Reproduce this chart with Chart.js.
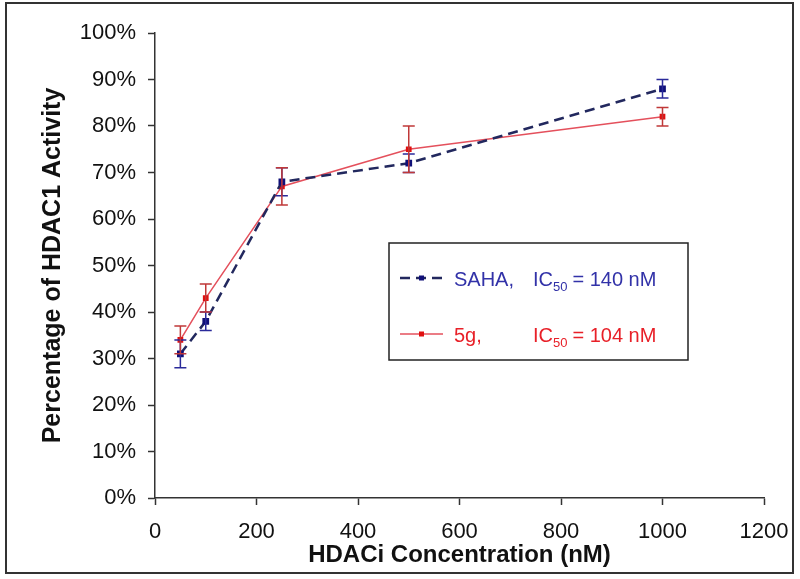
<!DOCTYPE html>
<html>
<head>
<meta charset="utf-8">
<script src="https://cdn.jsdelivr.net/npm/chart.js@4"></script>
<style>
  html, body { margin: 0; padding: 0; background: #fff; }
  #wrap { width: 800px; height: 579px; }
</style>
</head>
<body>
<div id="wrap"><canvas id="hdacChart" width="800" height="579"></canvas></div>
<script>
// Data
const concentrations = [50, 100, 250, 500, 1000];
const sahaValues = [0.31, 0.38, 0.68, 0.72, 0.88];
const sahaErrors = [0.03, 0.02, 0.03, 0.02, 0.02];
const g5Values = [0.34, 0.43, 0.67, 0.75, 0.82];
const g5Errors = [0.03, 0.03, 0.04, 0.05, 0.02];
const legendNames = ['SAHA,', '5g,'];
const legendIC50 = ['140 nM', '104 nM'];

const toPoints = (vals) => concentrations.map((c, i) => ({ x: c, y: vals[i] }));

// Error bars drawn via the chart's own scales
const errorBarPlugin = {
    id: 'errorBars',
    afterDatasetsDraw(chart) {
        const { ctx, scales: { x, y } } = chart;
        chart.data.datasets.forEach((ds) => {
            if (!ds.errors) return;
            ctx.save();
            ctx.strokeStyle = ds.errorColor;
            ctx.lineWidth = 1.5;
            ds.data.forEach((p, i) => {
                const px = x.getPixelForValue(p.x);
                const top = y.getPixelForValue(p.y + ds.errors[i]);
                const bot = y.getPixelForValue(p.y - ds.errors[i]);
                ctx.beginPath();
                ctx.moveTo(px, top); ctx.lineTo(px, bot);
                ctx.moveTo(px - 6, top); ctx.lineTo(px + 6, top);
                ctx.moveTo(px - 6, bot); ctx.lineTo(px + 6, bot);
                ctx.stroke();
            });
            ctx.restore();
        });
    }
};

// Boxed legend with subscripted IC50 and outer frame
const customLegendPlugin = {
    id: 'customLegend',
    afterDraw(chart) {
        const ctx = chart.ctx;
        ctx.save();
        // outer frame
        ctx.strokeStyle = '#333';
        ctx.lineWidth = 2;
        ctx.strokeRect(6, 3, 787, 570);

        // legend box
        ctx.lineWidth = 1.5;
        ctx.strokeStyle = '#222';
        ctx.strokeRect(389, 243, 299, 117);

        const rows = [278, 334];
        chart.data.datasets.forEach((ds, i) => {
            const yy = rows[i];
            ctx.strokeStyle = ds.borderColor;
            ctx.lineWidth = ds.borderWidth;
            ctx.setLineDash(ds.borderDash || []);
            ctx.beginPath();
            ctx.moveTo(400, yy); ctx.lineTo(443, yy);
            ctx.stroke();
            ctx.setLineDash([]);
            ctx.fillStyle = ds.pointBackgroundColor;
            ctx.fillRect(419, yy - 2.5, 5, 5);

            ctx.fillStyle = ds.textColor;
            ctx.textBaseline = 'alphabetic';
            ctx.font = '20px Arial, "Liberation Sans", sans-serif';
            ctx.fillText(legendNames[i], 454, yy + 8);
            let tx = 533;
            ctx.fillText('IC', tx, yy + 8);
            tx += ctx.measureText('IC').width;
            ctx.font = '13px Arial, "Liberation Sans", sans-serif';
            ctx.fillText('50', tx, yy + 13);
            tx += ctx.measureText('50').width + 5;
            ctx.font = '20px Arial, "Liberation Sans", sans-serif';
            ctx.fillText('= ' + legendIC50[i], tx, yy + 8);
        });
        ctx.restore();
    }
};

const ctx = document.getElementById('hdacChart').getContext('2d');

new Chart(ctx, {
    type: 'line',
    data: {
        datasets: [
            {
                label: 'SAHA',
                data: toPoints(sahaValues),
                errors: sahaErrors,
                errorColor: '#2a2a9a',
                textColor: '#3232a8',
                borderColor: '#22285e',
                borderWidth: 2.5,
                borderDash: [10, 6],
                pointStyle: 'rect',
                pointRadius: 3,
                pointBackgroundColor: '#101078',
                pointBorderColor: '#101078',
                tension: 0
            },
            {
                label: '5g',
                data: toPoints(g5Values),
                errors: g5Errors,
                errorColor: '#c03838',
                textColor: '#e82028',
                borderColor: '#e4505c',
                borderWidth: 1.5,
                pointStyle: 'rect',
                pointRadius: 3,
                pointBackgroundColor: '#e01010',
                pointBorderColor: '#e01010',
                tension: 0
            }
        ]
    },
    options: {
        responsive: false,
        animation: false,
        layout: { padding: { top: 33, right: 36, left: 0, bottom: 0 } },
        plugins: {
            legend: { display: false },
            tooltip: { enabled: false }
        },
        scales: {
            x: {
                type: 'linear',
                min: 0,
                max: 1200,
                afterFit: (s) => { s.height = 81; s.paddingRight = 0; },
                ticks: {
                    stepSize: 200,
                    color: '#111',
                    padding: 14,
                    font: { size: 22, family: 'Arial, "Liberation Sans", sans-serif' },
                    callback: (v) => String(v)
                },
                grid: { drawOnChartArea: false, drawTicks: true, tickLength: 7, tickColor: '#333', tickWidth: 1.5 },
                border: { display: true, color: '#333', width: 1.5 },
                title: {
                    display: true,
                    text: 'HDACi Concentration (nM)',
                    color: '#111',
                    padding: { top: 0, bottom: 9 },
                    font: { size: 24, weight: 'bold', family: 'Arial, "Liberation Sans", sans-serif' }
                }
            },
            y: {
                min: 0,
                max: 1,
                afterFit: (s) => { s.width = 155; },
                ticks: {
                    stepSize: 0.1,
                    color: '#111',
                    padding: 12,
                    font: { size: 22, family: 'Arial, "Liberation Sans", sans-serif' },
                    callback: (v) => Math.round(v * 100) + '%'
                },
                grid: { drawOnChartArea: false, drawTicks: true, tickLength: 7, tickColor: '#333', tickWidth: 1.5 },
                border: { display: true, color: '#333', width: 1.5 },
                title: {
                    display: true,
                    text: 'Percentage of HDAC1 Activity',
                    color: '#111',
                    padding: { top: 38, bottom: 0 },
                    font: { size: 25, weight: 'bold', family: 'Arial, "Liberation Sans", sans-serif' }
                }
            }
        }
    },
    plugins: [errorBarPlugin, customLegendPlugin]
});
</script>
</body>
</html>
